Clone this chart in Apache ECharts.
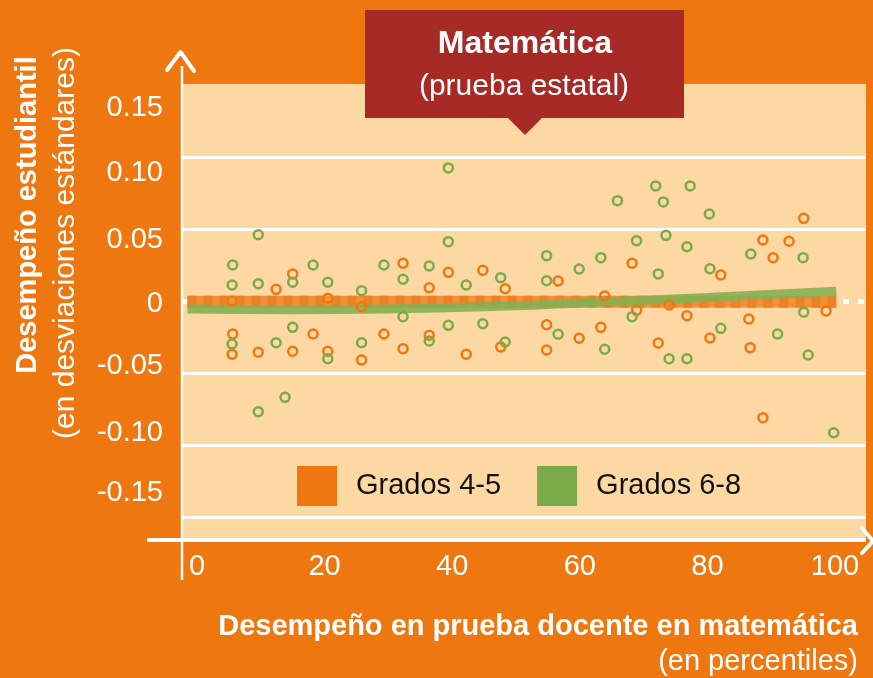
<!DOCTYPE html>
<html lang="es">
<head>
    <meta charset="UTF-8">
    <title>Matemática (prueba estatal)</title>
    <script src="https://cdn.jsdelivr.net/npm/echarts@6/dist/echarts.min.js"></script>
    <style>
        html, body { margin: 0; padding: 0; background: #ee770f; }
    </style>
</head>
<body>
    <div id="main" style="width: 873px;height:678px;"></div>
    <script>
// datos: [percentil docente, desempeño estudiantil]
var grados45 = [
    [15.0, 0.0188], [12.4, 0.0081], [5.5, 0.0], [20.5, 0.0019], [25.8, -0.0040],
    [5.6, -0.0229], [18.2, -0.0229], [29.3, -0.0229], [5.5, -0.0370], [9.6, -0.0356],
    [15.0, -0.0349], [20.5, -0.0349], [25.8, -0.0410], [32.3, 0.0262], [39.4, 0.0199],
    [44.8, 0.0213], [36.4, 0.0092], [48.3, 0.0085], [56.6, 0.0139], [32.3, -0.0331],
    [36.4, -0.0238], [42.2, -0.0370], [47.6, -0.0319], [54.8, -0.0165], [54.8, -0.0340],
    [59.9, -0.0259], [63.3, -0.0183], [63.9, 0.0035], [68.2, 0.0262], [68.9, -0.0065],
    [74.0, -0.0028], [76.8, -0.0102], [72.3, -0.0292], [80.4, -0.0257], [82.1, 0.0181],
    [86.5, -0.0125], [86.7, -0.0324], [88.7, 0.0424], [92.8, 0.0415], [90.3, 0.0301],
    [95.1, 0.0574], [98.6, -0.0069], [88.7, -0.0810]
];
var grados68 = [
    [9.6, 0.0460], [5.6, 0.0250], [18.2, 0.0250], [29.3, 0.0250], [5.5, 0.0111],
    [9.6, 0.0120], [15.0, 0.0130], [20.5, 0.0130], [25.8, 0.0072], [15.0, -0.0183],
    [5.5, -0.0299], [12.4, -0.0290], [20.5, -0.0401], [25.8, -0.0290], [13.8, -0.0669],
    [9.6, -0.0769], [39.4, 0.0924], [39.4, 0.0412], [32.3, 0.0151], [36.4, 0.0243],
    [42.2, 0.0111], [47.6, 0.0162], [54.8, 0.0315], [54.8, 0.0141], [59.9, 0.0222],
    [63.3, 0.0301], [32.3, -0.0109], [39.4, -0.0169], [44.8, -0.0158], [36.4, -0.0278],
    [48.3, -0.0285], [56.6, -0.0231], [63.9, -0.0335], [65.9, 0.0697], [71.9, 0.0799],
    [77.3, 0.0799], [73.1, 0.0688], [80.3, 0.0604], [68.9, 0.0419], [73.5, 0.0456],
    [76.8, 0.0377], [72.3, 0.0188], [80.4, 0.0224], [86.8, 0.0326], [95.0, 0.0301],
    [68.2, -0.0109], [95.1, -0.0078], [82.1, -0.0190], [91.0, -0.0229], [74.0, -0.0401],
    [76.8, -0.0401], [95.8, -0.0375], [99.8, -0.0915]
];
// líneas de tendencia
var tendencia45 = [[-1.5, -0.0006], [100.2, -0.0006]];
var tendencia68 = [[-1.5, -0.0055], [15, -0.006], [30, -0.0055], [45, -0.004], [60, -0.0014], [80, 0.0025], [100.2, 0.0068]];

var xTicks = [0, 20, 40, 60, 80, 100];
var yTicks = [-0.15, -0.10, -0.05, 0, 0.05, 0.10, 0.15];
var yTickLabels = ['-0.15', '-0.10', '-0.05', '0', '0.05', '0.10', '0.15'];
var yGridLines = [-0.15, -0.10, -0.05, 0.05, 0.10];

var naranja = '#ee770f';
var verde = '#7aaa49';
var fuente = "'Liberation Sans', Arial, sans-serif";

// desplazamiento vertical de las etiquetas del eje y (como en el original)
var yShift = [-24, -12, -7, 3, 11, 16, 23];
var rich = {};
yShift.forEach(function (d, i) {
    rich['s' + i] = {
        color: '#fff', fontSize: 29, fontFamily: fuente,
        padding: d >= 0 ? [2 * d, 0, 0, 0] : [0, 0, -2 * d, 0]
    };
});

var myChart = echarts.init(document.getElementById('main'));

var option = {
    backgroundColor: naranja,
    animation: false,
    grid: {
        left: 183, right: 7, top: 84, bottom: 140,
        show: true, backgroundColor: '#fed8a3', borderWidth: 0
    },
    legend: {
        left: 292, top: 461,
        itemWidth: 40, itemHeight: 40, itemGap: 36,
        selectedMode: false,
        textStyle: { color: '#111', fontSize: 29, fontFamily: fuente, padding: [0, 0, 0, 14] },
        data: [
            { name: 'Grados 4-5', icon: 'rect', itemStyle: { color: naranja, borderWidth: 0, opacity: 1 } },
            { name: 'Grados 6-8', icon: 'rect', itemStyle: { color: verde, borderWidth: 0, opacity: 1 } }
        ]
    },
    xAxis: {
        type: 'value',
        min: -2.194, max: 104.86,
        axisLine: { show: false },
        axisTick: { show: false },
        splitLine: { show: false },
        axisLabel: {
            customValues: xTicks,
            color: '#fff', fontSize: 29, fontFamily: fuente, margin: 14
        }
    },
    yAxis: {
        type: 'value',
        min: -0.16458, max: 0.15069,
        axisLine: { show: false },
        axisTick: { show: false, customValues: yGridLines },
        splitLine: { show: true, lineStyle: { color: '#fff', width: 3 } },
        axisLabel: {
            customValues: yTicks,
            margin: 20,
            formatter: function (v) {
                var i = yTicks.findIndex(function (t) { return Math.abs(t - v) < 1e-6; });
                return '{s' + i + '|' + yTickLabels[i] + '}';
            },
            rich: rich
        }
    },
    graphic: [
        // ejes dibujados a mano
        { type: 'line', z: 100, shape: { x1: 182, y1: 66, x2: 182, y2: 580 }, style: { stroke: '#fff', lineWidth: 2.5 } },
        { type: 'polyline', z: 100, shape: { points: [[167, 70], [180.5, 52], [194, 71]] }, style: { stroke: '#fff', lineWidth: 4, fill: null, lineCap: 'round', lineJoin: 'round' } },
        { type: 'line', z: 100, shape: { x1: 147, y1: 540, x2: 866, y2: 540 }, style: { stroke: '#fff', lineWidth: 4 } },
        { type: 'polyline', z: 100, shape: { points: [[862, 528], [873, 541], [862, 553]] }, style: { stroke: '#fff', lineWidth: 4, fill: null, lineCap: 'round', lineJoin: 'round' } },
        // recuadro del título
        { type: 'rect', z: 100, shape: { x: 365, y: 10, width: 319, height: 108 }, style: { fill: '#a82a27' } },
        { type: 'polygon', z: 100, shape: { points: [[507, 117], [543, 117], [525, 135]] }, style: { fill: '#a82a27' } },
        { type: 'text', z: 101, x: 525, y: 44, style: { text: 'Matemática', fill: '#fff', font: 'bold 32px ' + fuente, align: 'center', verticalAlign: 'middle' } },
        { type: 'text', z: 101, x: 524, y: 87, style: { text: '(prueba estatal)', fill: '#fff', font: '30px ' + fuente, align: 'center', verticalAlign: 'middle' } },
        // títulos de los ejes
        { type: 'text', z: 101, x: 28, y: 215, rotation: Math.PI / 2, style: { text: 'Desempeño estudiantil', fill: '#fff', font: 'bold 29px ' + fuente, align: 'center', verticalAlign: 'middle' } },
        { type: 'text', z: 101, x: 66, y: 243, rotation: Math.PI / 2, style: { text: '(en desviaciones estándares)', fill: '#fff', font: '30px ' + fuente, align: 'center', verticalAlign: 'middle' } },
        { type: 'text', z: 101, x: 858, y: 627, style: { text: 'Desempeño en prueba docente en matemática', fill: '#fff', font: 'bold 29px ' + fuente, align: 'right', verticalAlign: 'middle' } },
        { type: 'text', z: 101, x: 858, y: 662, style: { text: '(en percentiles)', fill: '#fff', font: '29px ' + fuente, align: 'right', verticalAlign: 'middle' } }
    ],
    series: [
        {
            // línea punteada del cero, por debajo de las tendencias
            name: 'Cero',
            type: 'line',
            data: [],
            z: 1,
            silent: true,
            markLine: {
                silent: true, symbol: 'none', label: { show: false },
                lineStyle: { color: '#fff', width: 5, type: [6, 9], opacity: 1 },
                data: [{ yAxis: 0 }]
            }
        },
        {
            name: 'Tendencia 4-5',
            type: 'line',
            data: tendencia45,
            symbol: 'none',
            silent: true,
            z: 5,
            lineStyle: { color: '#f0913e', width: 12 }
        },
        {
            name: 'Tendencia 4-5 b',
            type: 'line',
            data: tendencia45,
            symbol: 'none',
            silent: true,
            z: 6,
            lineStyle: { color: '#ee8222', width: 12, type: [9, 7] }
        },
        {
            name: 'Tendencia 6-8',
            type: 'line',
            data: tendencia68,
            smooth: true,
            symbol: 'none',
            silent: true,
            z: 7,
            lineStyle: { color: '#86b052', width: 9, opacity: 0.9 }
        },
        {
            name: 'Grados 4-5',
            type: 'scatter',
            data: grados45,
            symbol: 'circle',
            symbolSize: 9,
            z: 10,
            itemStyle: { color: 'transparent', borderColor: naranja, borderWidth: 2.5, opacity: 1 }
        },
        {
            name: 'Grados 6-8',
            type: 'scatter',
            data: grados68,
            symbol: 'circle',
            symbolSize: 9,
            z: 10,
            itemStyle: { color: 'transparent', borderColor: verde, borderWidth: 2.5, opacity: 1 }
        }
    ]
};

myChart.setOption(option);
    </script>
</body>
</html>
